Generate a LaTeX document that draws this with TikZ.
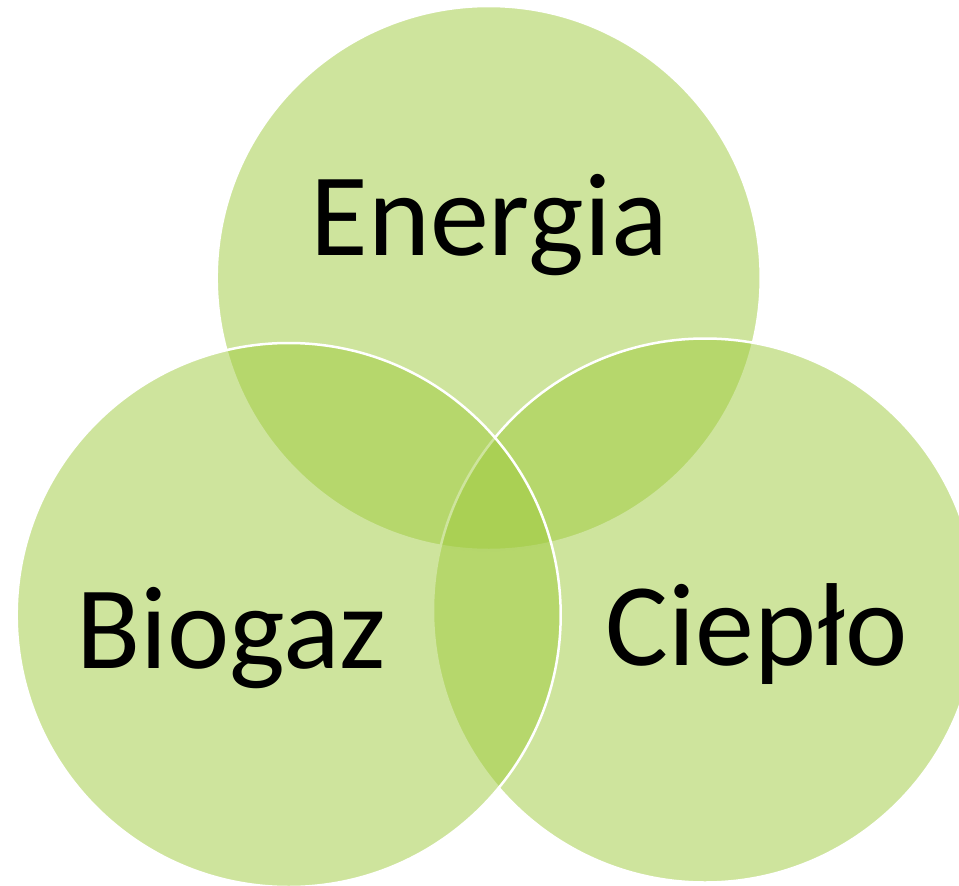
\documentclass[tikz,border=0pt]{standalone}
\usepackage{fontspec}
\setmainfont{Carlito}
\definecolor{venn}{RGB}{158,202,60}
\tikzset{
  venncircle/.style={circle, inner sep=0pt, minimum size=544pt, fill=venn, fill opacity=0.5, draw=white, draw opacity=1, line width=2.5pt},
  vennlabel/.style={font=\fontsize{118}{130}\selectfont, text=black, anchor=base, inner sep=0pt}
}
\begin{document}
\begin{tikzpicture}[x=1pt, y=-1pt]
\useasboundingbox (0,0) rectangle (959,886);
\clip (0,0) rectangle (959,886);
\node[venncircle] (top) at (488.7,278) {};
\node[venncircle] (right) at (705,610.5) {};
\node[venncircle] (left) at (288.7,615) {};
\node[vennlabel] (energia) at (489,255) {Energia};
\node[vennlabel] (biogaz) at (231.5,668) {Biogaz};
\node[vennlabel] (cieplo) at (756.5,665) {Ciepło};
\end{tikzpicture}
\end{document}
